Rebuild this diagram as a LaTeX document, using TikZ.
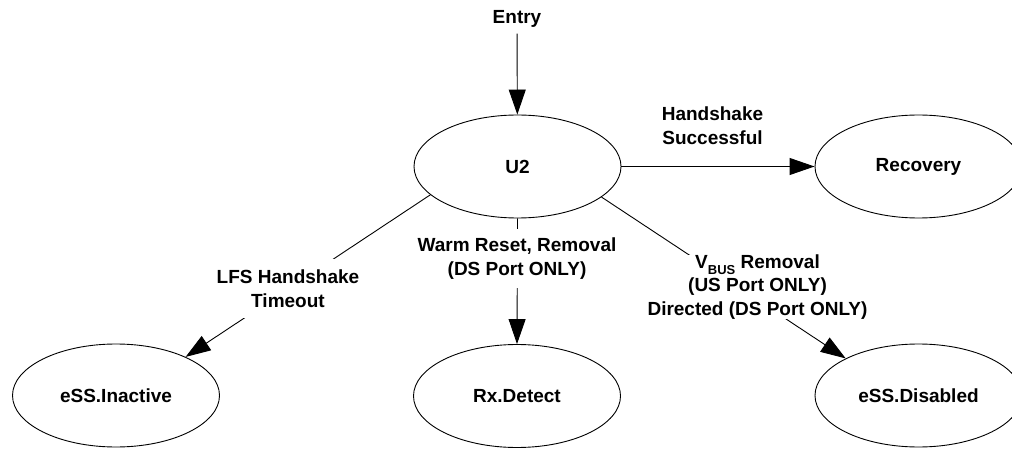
\documentclass[tikz,border=0pt]{standalone}
\usepackage{fontspec}
\setmainfont{Liberation Sans}
\usetikzlibrary{shapes.geometric,arrows.meta}
\newcommand{\lblfont}{\fontsize{19}{23.5}\selectfont\bfseries}
\tikzset{
  state/.style={draw=black, line width=0.9pt, ellipse, minimum width=207pt, minimum height=103pt, inner sep=0pt, font=\lblfont},
  arr/.style={draw=black, line width=0.9pt, -{Triangle[length=25pt,width=17pt]}},
  lbl/.style={font=\lblfont, align=center, fill=white, inner xsep=3pt, inner ysep=9pt},
}
\begin{document}
\begin{tikzpicture}[x=1pt,y=-1pt]
\useasboundingbox (0,0) rectangle (1012,449);
\node[state] (u2) at (517.5,166.5) {U2};
\node[state] (rec) at (918.5,166.5) {Recovery};
\node[state] (inact) at (116,395.5) {eSS.Inactive};
\node[state] (rx) at (517,396) {Rx.Detect};
\node[state] (dis) at (918.5,395.5) {eSS.Disabled};
\node[font=\lblfont, inner sep=0pt, outer sep=6pt] (entry) at (517,19) {Entry};
\draw[arr] (entry) -- (u2);
\draw[arr] (u2) -- (rec);
\draw[arr] (u2.198) -- (inact.29);
\draw[arr] (u2.south) -- (rx.north);
\draw[arr] (u2.340) -- (dis.153);
\node[font=\lblfont, align=center] (hs) at (712.5,125.5) {Handshake\\Successful};
\node[lbl, inner ysep=11pt] (lfs) at (288,288.5) {LFS Handshake\\Timeout};
\node[lbl] (wr) at (517,258.5) {Warm Reset, Removal\\(DS Port ONLY)};
\node[lbl, inner sep=0pt] (vb) at (757.5,287) {V\raisebox{-0.3em}{\fontsize{13}{13}\selectfont BUS} Removal\\(US Port ONLY)\\Directed (DS Port ONLY)};
\end{tikzpicture}
\end{document}
